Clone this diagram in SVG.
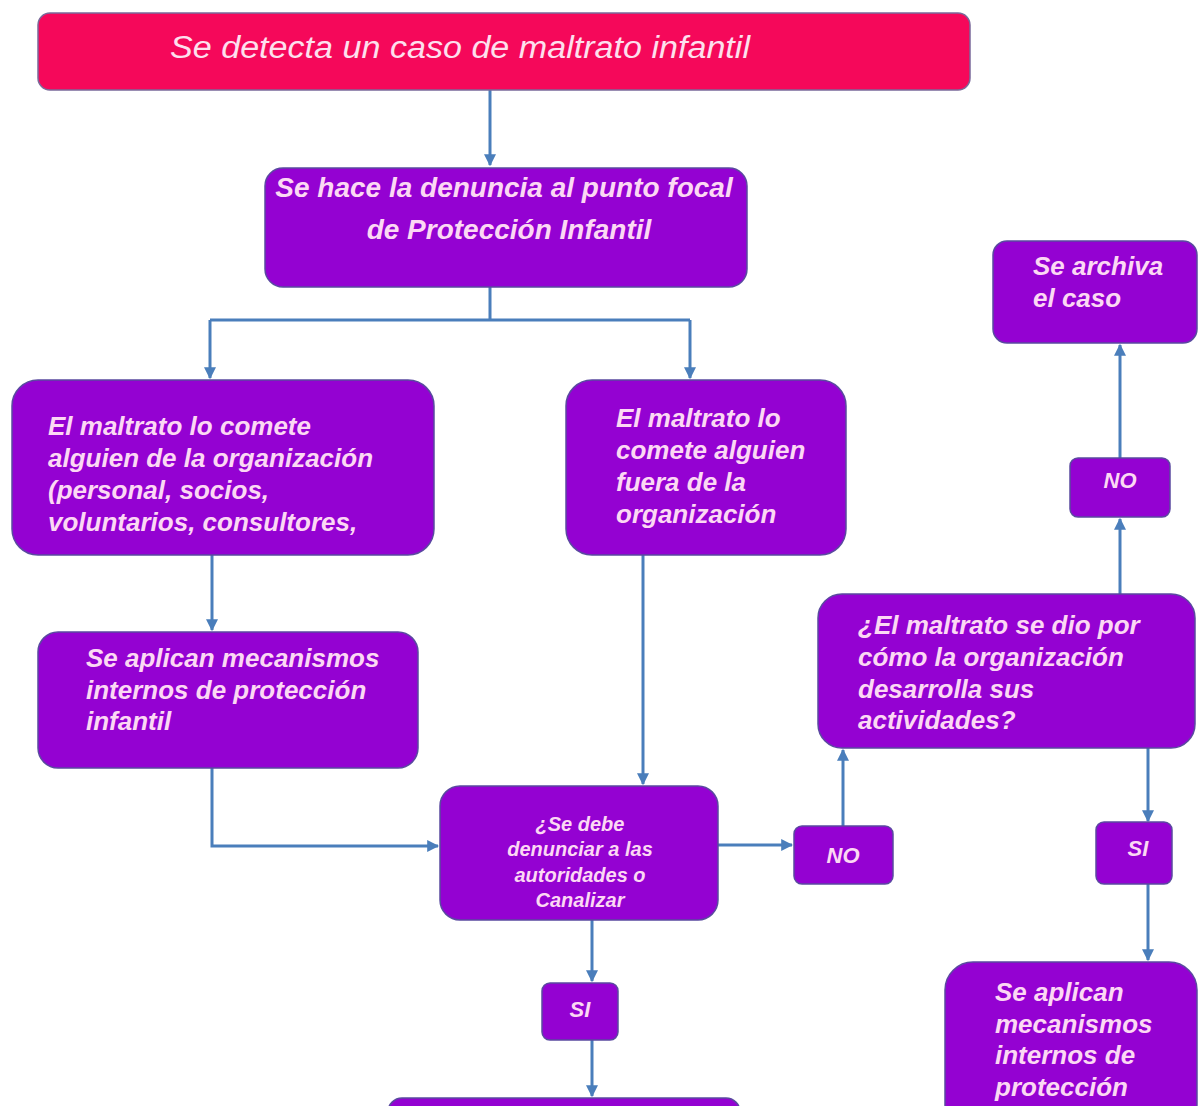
<svg xmlns="http://www.w3.org/2000/svg" width="1201" height="1106" viewBox="0 0 1201 1106">
<defs>
<marker id="ah" viewBox="0 0 10 10" refX="9" refY="5" markerWidth="4" markerHeight="4" orient="auto" markerUnits="strokeWidth">
<path d="M0,0 L10,5 L0,10 z" fill="#4a7ebb"/>
</marker>
<style>
.box{fill:#9402d2;stroke:#5a4aa0;stroke-width:1.5}
.t{font-family:"Liberation Sans",Arial,sans-serif;font-weight:bold;font-style:italic;fill:#fcd8f4}
.c{fill:none;stroke:#4a7ebb;stroke-width:3;marker-end:url(#ah)}
.l{fill:none;stroke:#4a7ebb;stroke-width:3}
</style>
</defs>
<rect width="1201" height="1106" fill="#fff"/>
<g id="connectors">
<path class="c" d="M490,90 V165"/>
<path class="l" d="M490,287 V320 M210,320 H690"/>
<path class="c" d="M210,320 V378"/>
<path class="c" d="M690,320 V378"/>
<path class="c" d="M212,555 V630"/>
<path class="c" d="M212,768 V846 H438"/>
<path class="c" d="M643,555 V784"/>
<path class="c" d="M718,845 H792"/>
<path class="c" d="M843,826 V750"/>
<path class="c" d="M1120,594 V519"/>
<path class="c" d="M1120,458 V345"/>
<path class="c" d="M1148,748 V821"/>
<path class="c" d="M1148,884 V960"/>
<path class="c" d="M592,920 V981"/>
<path class="c" d="M592,1040 V1096"/>
</g>
<g id="n1">
<rect x="38" y="13" width="932" height="77" rx="12" fill="#f5085a" stroke="#7a6a9a" stroke-width="1.5"/>
<text x="170" y="58" textLength="580" lengthAdjust="spacingAndGlyphs" font-family="'Liberation Sans',Arial,sans-serif" font-style="italic" font-size="31" fill="#fde0ee">Se detecta un caso de maltrato infantil</text>
</g>
<g id="n2">
<rect class="box" x="265" y="168" width="482" height="119" rx="18"/>
<text class="t" font-size="28" text-anchor="middle"><tspan x="504" y="197">Se hace la denuncia al punto focal</tspan><tspan x="509" y="239">de Protección Infantil</tspan></text>
</g>
<g id="n3">
<rect class="box" x="12" y="380" width="422" height="175" rx="26"/>
<text class="t" font-size="26"><tspan x="48" y="435">El maltrato lo comete</tspan><tspan x="48" y="467">alguien de la organización</tspan><tspan x="48" y="499">(personal, socios,</tspan><tspan x="48" y="531">voluntarios, consultores,</tspan></text>
</g>
<g id="n4">
<rect class="box" x="566" y="380" width="280" height="175" rx="26"/>
<text class="t" font-size="26"><tspan x="616" y="427">El maltrato lo</tspan><tspan x="616" y="459">comete alguien</tspan><tspan x="616" y="491">fuera de la</tspan><tspan x="616" y="523">organización</tspan></text>
</g>
<g id="n5">
<rect class="box" x="38" y="632" width="380" height="136" rx="20"/>
<text class="t" font-size="26"><tspan x="86" y="667">Se aplican mecanismos</tspan><tspan x="86" y="699">internos de protección</tspan><tspan x="86" y="730">infantil</tspan></text>
</g>
<g id="n6">
<rect class="box" x="440" y="786" width="278" height="134" rx="20"/>
<text class="t" font-size="20" text-anchor="middle"><tspan x="580" y="831">¿Se debe</tspan><tspan x="580" y="856">denunciar a las</tspan><tspan x="580" y="882">autoridades o</tspan><tspan x="580" y="907">Canalizar</tspan></text>
</g>
<g id="n7">
<rect class="box" x="794" y="826" width="99" height="58" rx="8"/>
<text class="t" font-size="22" x="843" y="863" text-anchor="middle">NO</text>
</g>
<g id="n8">
<rect class="box" x="818" y="594" width="377" height="154" rx="24"/>
<text class="t" font-size="26"><tspan x="858" y="634">¿El maltrato se dio por</tspan><tspan x="858" y="666">cómo la organización</tspan><tspan x="858" y="698">desarrolla sus</tspan><tspan x="858" y="729">actividades?</tspan></text>
</g>
<g id="n9">
<rect class="box" x="1070" y="458" width="100" height="59" rx="8"/>
<text class="t" font-size="22" x="1120" y="488" text-anchor="middle">NO</text>
</g>
<g id="n10">
<rect class="box" x="993" y="241" width="204" height="102" rx="14"/>
<text class="t" font-size="26"><tspan x="1033" y="275">Se archiva</tspan><tspan x="1033" y="307">el caso</tspan></text>
</g>
<g id="n11">
<rect class="box" x="1096" y="822" width="76" height="62" rx="8"/>
<text class="t" font-size="22" x="1138" y="856" text-anchor="middle">SI</text>
</g>
<g id="n12">
<rect class="box" x="945" y="962" width="252" height="170" rx="28"/>
<text class="t" font-size="26"><tspan x="995" y="1001">Se aplican</tspan><tspan x="995" y="1033">mecanismos</tspan><tspan x="995" y="1064">internos de</tspan><tspan x="995" y="1096">protección</tspan></text>
</g>
<g id="n13">
<rect class="box" x="542" y="983" width="76" height="57" rx="8"/>
<text class="t" font-size="22" x="580" y="1017" text-anchor="middle">SI</text>
</g>
<g id="n14">
<rect class="box" x="388" y="1098" width="352" height="40" rx="14"/>
</g>
</svg>
